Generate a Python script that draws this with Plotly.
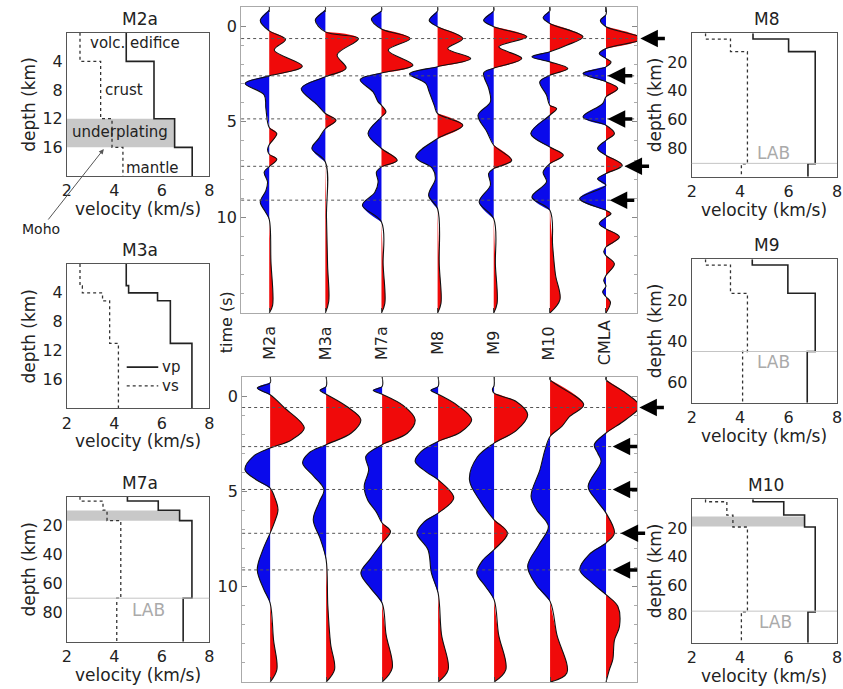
import plotly.graph_objects as go

W, H = 843, 689
FONT = "DejaVu Sans"

# ---------------- velocity models (depth boundaries in km, velocities in km/s)
M2A_DEPTH = [0, 4, 12, 16, 20]
M2A_VP = [4.5, 5.67, 6.54, 7.28]
M2A_VS = [2.55, 3.42, 3.9, 4.36]

M3A_DEPTH = [0, 3, 4, 5.1, 11, 20]
M3A_VP = [4.5, 4.6, 5.82, 6.36, 7.27]
M3A_VS = [2.55, 2.65, 3.5, 3.8, 4.17]

M7A_DEPTH = [0, 3, 9.3, 16.5, 70, 100]
M7A_VP = [4.55, 5.85, 6.75, 7.27, 6.9]
M7A_VS = [2.55, 3.52, 3.69, 4.27, 4.1]

M8_DEPTH = [0, 4, 12.8, 91, 100]
M8_VP = [4.53, 6.0, 7.1, 6.8]
M8_VS = [2.57, 3.6, 4.3, 4.05]

M9_DEPTH = [0, 2.8, 16.6, 45, 70]
M9_VP = [4.5, 5.97, 7.1, 6.77]
M9_VS = [2.57, 3.6, 4.3, 4.1]

M10_DEPTH = [0, 1.7, 11, 19.3, 78.5, 100]
M10_VP = [4.53, 5.8, 6.66, 7.1, 6.8]
M10_VS = [2.57, 3.45, 3.7, 4.3, 4.05]

UNDERPLATING = {"M2a": (12, 16, 6.54), "M7a": (9.5, 16.5, 6.75), "M10": (12, 19, 6.66)}
LAB_DEPTH = {"M7a": 70, "M8": 90.7, "M9": 45, "M10": 78}

# ---------------- receiver functions: key times (s) and amplitudes (trace-spacing units)
STATIONS = ["M2a", "M3a", "M7a", "M8", "M9", "M10", "CMLA"]

m2a_top_t = [-1, -0.85, -0.3, 0.25, 0.7, 1.25, 2.1, 2.6, 3.0, 3.6, 4.3, 5.3, 5.62, 6.2, 6.45, 6.7, 6.96, 7.35, 7.63, 8.15, 8.6, 9.2, 9.7, 10.1, 12.3, 14.6, 15]
m2a_top_a = [0, 0, -0.16, 0, 0.29, 0.09, 0.59, 0, -0.43, -0.09, -0.06, 0, 0.135, 0, -0.03, 0, 0.135, 0, -0.09, -0.03, -0.06, -0.16, -0.07, 0, 0.03, 0.06, 0]
m3a_top_t = [-1, -0.85, -0.31, 0.3, 0.65, 1.5, 2.2, 2.65, 3.26, 4.1, 4.57, 4.92, 5.36, 5.88, 6.4, 7.1, 10.0, 12.5, 14.4, 15]
m3a_top_a = [0, 0, -0.18, 0, 0.59, 0.21, 0.37, 0, -0.43, -0.15, 0, 0.19, 0, -0.12, -0.24, 0, 0.02, 0.04, 0.06, 0]
m7a_top_t = [-1, -0.8, -0.37, 0.15, 0.65, 1.26, 2.04, 2.45, 2.8, 3.44, 3.96, 4.14, 4.49, 4.75, 5.62, 6.4, 7.02, 7.36, 7.63, 8.15, 8.7, 9.37, 10.24, 12.5, 14.5, 15]
m7a_top_a = [0, 0, -0.18, 0, 0.51, 0.12, 0.56, 0, -0.38, -0.15, -0.06, 0, 0.08, 0, -0.24, 0, 0.28, 0, -0.09, -0.06, -0.12, -0.34, 0, 0.03, 0.06, 0]
m8_top_t = [-1, -0.8, -0.3, 0.03, 0.65, 1.17, 1.69, 2.12, 2.5, 3.0, 3.44, 4.14, 4.57, 5.18, 5.88, 6.84, 7.45, 7.98, 8.85, 9.55, 12.5, 14.5, 15]
m8_top_a = [0, 0, -0.15, 0, 0.45, 0.18, 0.59, 0, -0.5, -0.21, -0.15, -0.06, 0, 0.45, 0, -0.39, -0.09, -0.04, -0.16, 0, 0.03, 0.06, 0]
m9_top_t = [-1, -0.8, -0.3, 0.03, 0.56, 1.08, 1.69, 2.2, 2.45, 3.26, 3.96, 4.66, 5.53, 6.23, 7.02, 7.45, 7.7, 8.32, 9.2, 10.07, 12.5, 14.5, 15]
m9_top_a = [0, 0, -0.18, 0, 0.59, 0.09, 0.5, 0, -0.18, -0.09, -0.06, -0.28, -0.12, 0, 0.32, 0, -0.09, -0.06, -0.26, 0, 0.03, 0.06, 0]
m10_top_t = [-1, -0.8, -0.44, -0.14, 0.56, 1.0, 1.34, 1.6, 1.87, 2.22, 2.57, 2.91, 3.6, 4.14, 4.31, 4.66, 5.62, 6.32, 6.75, 7.19, 7.63, 8.15, 8.94, 9.63, 11.5, 13.0, 14.3, 15]
m10_top_a = [0, 0, -0.12, 0, 0.59, 0.3, 0, -0.32, 0, 0.32, 0, -0.18, -0.06, 0, 0.12, 0, -0.34, 0, 0.24, 0, -0.12, -0.06, -0.32, 0, 0.05, 0.1, 0.18, 0]
cmla_top_t = [-1, -0.6, -0.3, 0.03, 0.65, 1.17, 1.43, 1.69, 1.87, 2.13, 2.48, 2.91, 3.26, 3.7, 4.05, 4.75, 5.18, 5.62, 5.97, 6.4, 6.75, 7.28, 7.71, 7.98, 8.32, 9.02, 9.63, 9.81, 10.0, 10.33, 10.6, 11.03, 11.55, 11.8, 12.0, 12.43, 13.04, 13.3, 13.6, 13.9, 14.15, 14.43, 15]
cmla_top_a = [0, 0, -0.1, 0, 0.65, 0, -0.12, 0, 0.09, 0, -0.41, 0, 0.21, 0, -0.06, -0.41, 0, 0.15, 0, -0.15, 0, 0.29, 0, -0.15, 0, -0.47, 0, 0.09, 0, -0.12, 0, 0.24, 0, -0.04, 0, 0.15, 0, -0.04, 0, -0.06, 0, 0.08, 0]

m2a_bot_t = [-1, -0.7, -0.42, -0.07, 0.6, 1.68, 2.3, 2.73, 3.16, 3.86, 4.39, 4.83, 5.3, 5.96, 6.6, 7.19, 8.06, 9.11, 10.16, 10.86, 12.78, 14.35, 15]
m2a_bot_a = [0, 0, -0.23, 0, 0.25, 0.61, 0.38, 0, -0.3, -0.45, -0.25, 0, 0.08, 0.14, 0.08, 0, -0.13, -0.23, -0.11, 0, 0.06, 0.12, 0]
m3a_bot_t = [-1, -0.5, -0.3, -0.1, 0.55, 1.24, 1.94, 2.55, 2.99, 3.51, 4.21, 4.9, 5.6, 6.49, 7.53, 8.58, 11.0, 13.0, 14.35, 15]
m3a_bot_a = [0, 0, -0.11, 0, 0.37, 0.62, 0.45, 0, -0.31, -0.42, -0.22, -0.04, -0.13, -0.23, -0.1, 0, 0.03, 0.08, 0.15, 0]
m7a_bot_t = [-1, -0.5, -0.3, -0.1, 0.5, 1.24, 1.95, 2.55, 3.16, 3.86, 4.74, 5.44, 6.1, 6.66, 7.1, 7.71, 8.5, 9.28, 10.1, 10.86, 12.5, 14.27, 15]
m7a_bot_a = [0, 0, -0.16, 0, 0.38, 0.59, 0.45, 0, -0.29, -0.24, -0.32, -0.26, -0.1, 0, 0.15, 0, -0.2, -0.38, -0.2, 0, 0.07, 0.18, 0]
m8_bot_t = [-1, -0.5, -0.3, -0.1, 0.5, 1.24, 1.9, 2.38, 2.9, 3.43, 4.0, 4.39, 5.35, 6.14, 6.6, 7.19, 8.06, 9.28, 10.33, 12.5, 14.35, 15]
m8_bot_a = [0, 0, -0.13, 0, 0.35, 0.6, 0.4, 0, -0.3, -0.41, -0.2, 0, 0.28, 0, -0.25, -0.38, -0.18, -0.12, 0, 0.06, 0.18, 0]
m9_bot_t = [-1, -0.55, -0.35, -0.15, 0.3, 0.98, 1.8, 2.47, 3.2, 4.39, 5.5, 6.49, 7.19, 8.06, 8.6, 9.28, 10.0, 10.68, 12.5, 14.35, 15]
m9_bot_a = [0, 0, -0.03, 0, 0.4, 0.6, 0.4, 0, -0.3, -0.44, -0.25, 0, 0.24, 0, -0.2, -0.31, -0.15, 0, 0.08, 0.21, 0]
m10_bot_t = [-1, -0.85, 0.45, 1.07, 1.59, 2.12, 2.81, 3.86, 5.26, 5.96, 6.84, 7.8, 8.93, 9.9, 10.77, 12.5, 14.53, 15]
m10_bot_a = [0, 0, 0.6, 0.35, 0.21, 0, -0.09, -0.18, -0.34, -0.24, -0.03, -0.2, -0.4, -0.25, 0, 0.12, 0.3, 0]
cmla_bot_t = [-1, -0.85, -0.16, 0.54, 1.24, 1.94, 2.55, 2.99, 3.43, 4.74, 5.44, 6.14, 7.19, 7.71, 8.3, 9.11, 9.8, 10.42, 11.03, 12.08, 12.8, 13.83, 14.35, 15]
cmla_bot_a = [0, 0, 0.35, 0.6, 0.35, 0, -0.21, -0.15, -0.09, -0.32, -0.18, 0, 0.15, 0, -0.3, -0.47, -0.25, 0, 0.21, 0.24, 0.15, 0.12, 0.06, 0]

TOP_T = [m2a_top_t, m3a_top_t, m7a_top_t, m8_top_t, m9_top_t, m10_top_t, cmla_top_t]
TOP_A = [m2a_top_a, m3a_top_a, m7a_top_a, m8_top_a, m9_top_a, m10_top_a, cmla_top_a]
BOT_T = [m2a_bot_t, m3a_bot_t, m7a_bot_t, m8_bot_t, m9_bot_t, m10_bot_t, cmla_bot_t]
BOT_A = [m2a_bot_a, m3a_bot_a, m7a_bot_a, m8_bot_a, m9_bot_a, m10_bot_a, cmla_bot_a]

TOP_MARKS = [0.65, 2.6, 4.85, 7.33, 9.1]
BOT_MARKS = [0.6, 2.65, 4.9, 7.2, 9.12]

# ---------------- layout helpers (pixel boxes)
def xdom(x0, x1):
    return [x0 / W, x1 / W]

def ydom(y0, y1):
    return [1 - y1 / H, 1 - y0 / H]

fig = go.Figure()

VEL_PANELS = [
    # name, depth, vp, vs, pixel box (x0,x1,y0,y1), depth max, ticks
    ("M2a", M2A_DEPTH, M2A_VP, M2A_VS, (62.7, 206.7, 32.7, 176.0), 20, [4, 8, 12, 16]),
    ("M3a", M3A_DEPTH, M3A_VP, M3A_VS, (62.7, 206.7, 264.0, 408.3), 20, [4, 8, 12, 16]),
    ("M7a", M7A_DEPTH, M7A_VP, M7A_VS, (62.7, 206.7, 496.7, 641.7), 100, [20, 40, 60, 80]),
    ("M8", M8_DEPTH, M8_VP, M8_VS, (695.0, 842.0, 33.3, 176.7), 100, [20, 40, 60, 80]),
    ("M9", M9_DEPTH, M9_VP, M9_VS, (695.0, 842.0, 259.3, 402.7), 70, [20, 40, 60]),
    ("M10", M10_DEPTH, M10_VP, M10_VS, (695.0, 842.0, 499.3, 642.7), 100, [20, 40, 60, 80]),
]

def profile(bounds, vel):
    xs, ys = [], []
    for i, v in enumerate(vel):
        xs += [v, v]
        ys += [bounds[i], bounds[i + 1]]
    return xs, ys

shapes = []
annotations = []
layout_axes = {}

def ann(text, px, py, size=16, angle=0, color="#222", **kw):
    annotations.append(dict(text=text, x=px / W, y=1 - py / H, xref="paper", yref="paper",
                            showarrow=False, textangle=angle,
                            font=dict(family=FONT, size=size, color=color),
                            xanchor="center", yanchor="middle", **kw))

for k, (name, dep, vp, vs, box, dmax, yt) in enumerate(VEL_PANELS):
    idx = k + 1
    sx = "" if idx == 1 else str(idx)
    xr, yr = "x" + sx, "y" + sx
    x0, x1, y0, y1 = box
    layout_axes["xaxis" + sx] = dict(domain=xdom(x0, x1), anchor=yr, range=[2, 8], tickvals=[2, 4, 6, 8],
                                     showline=True, mirror=True, linecolor="#555", linewidth=1,
                                     ticks="", showgrid=False, zeroline=False,
                                     tickfont=dict(family=FONT, size=16, color="#222"))
    layout_axes["yaxis" + sx] = dict(domain=ydom(y0, y1), anchor=xr, range=[dmax, 0], tickvals=yt,
                                     showline=True, mirror=True, linecolor="#555", linewidth=1,
                                     ticks="", showgrid=False, zeroline=False,
                                     tickfont=dict(family=FONT, size=16, color="#222"))
    px_, py_ = profile(dep, vp)
    fig.add_trace(go.Scatter(x=px_, y=py_, mode="lines", xaxis=xr, yaxis=yr,
                             line=dict(color="#222", width=1.6), showlegend=False, hoverinfo="skip"))
    sx_, sy_ = profile(dep, vs)
    fig.add_trace(go.Scatter(x=sx_, y=sy_, mode="lines", xaxis=xr, yaxis=yr,
                             line=dict(color="#333", width=1.3, dash="dot"), showlegend=False, hoverinfo="skip"))
    if name in UNDERPLATING:
        d0, d1, vmax = UNDERPLATING[name]
        shapes.append(dict(type="rect", xref=xr, yref=yr, x0=2, x1=vmax, y0=d0, y1=d1,
                           fillcolor="#c8c8c8", line=dict(width=0), layer="below"))
    if name in LAB_DEPTH:
        shapes.append(dict(type="line", xref=xr + " domain", yref=yr, x0=0, x1=1,
                           y0=LAB_DEPTH[name], y1=LAB_DEPTH[name], line=dict(color="#c4c4c4", width=1)))
    # titles
    cx = (x0 + x1) / 2
    ann(name, cx + 2, y0 - 14, size=17)
    ann("velocity (km/s)", cx, y1 + 33, size=17)
    ann("depth (km)", x0 - 38 if x0 < 100 else x0 - 37, (y0 + y1) / 2, size=17, angle=-90)

# texts inside velocity panels
def dann(text, x, y, xr, yr, size=15, color="#222"):
    annotations.append(dict(text=text, x=x, y=y, xref=xr, yref=yr, showarrow=False,
                            font=dict(family=FONT, size=size, color=color),
                            xanchor="center", yanchor="middle"))

dann("volc. edifice", 4.85, 1.4, "x", "y")
dann("crust", 4.39, 8.0, "x", "y")
dann("underplating", 4.25, 13.9, "x", "y")
dann("mantle", 5.6, 18.9, "x", "y")
dann("LAB", 5.43, 78, "x3", "y3", size=17, color="#aaaaaa")
dann("LAB", 5.39, 83.5, "x4", "y4", size=17, color="#aaaaaa")
dann("LAB", 5.39, 50, "x5", "y5", size=17, color="#aaaaaa")
dann("LAB", 5.45, 85.4, "x6", "y6", size=17, color="#aaaaaa")

# legend in M3a
shapes.append(dict(type="line", xref="x2", yref="y2", x0=4.52, x1=5.85, y0=14.3, y1=14.3,
                   line=dict(color="#222", width=1.6)))
shapes.append(dict(type="line", xref="x2", yref="y2", x0=4.52, x1=5.85, y0=16.9, y1=16.9,
                   line=dict(color="#333", width=1.3, dash="dot")))
annotations.append(dict(text="vp", x=5.93, y=14.3, xref="x2", yref="y2", showarrow=False,
                        xanchor="left", yanchor="middle", font=dict(family=FONT, size=15, color="#222")))
annotations.append(dict(text="vs", x=5.93, y=16.9, xref="x2", yref="y2", showarrow=False,
                        xanchor="left", yanchor="middle", font=dict(family=FONT, size=15, color="#222")))

# Moho arrow
annotations.append(dict(text="Moho", x=100 / W, y=1 - 149 / H, xref="paper", yref="paper",
                        ax=-63, ay=80, showarrow=True, arrowhead=2, arrowsize=1, arrowwidth=1,
                        arrowcolor="#555", font=dict(family=FONT, size=14, color="#222")))

# ---------------- receiver function panels
RED = "rgb(240,10,10)"
BLUE = "rgb(10,10,235)"

def add_wave(t, a, off, xr, yr):
    zeros = [i for i, v in enumerate(a) if v == 0]
    for j in range(len(zeros) - 1):
        s, e = zeros[j], zeros[j + 1]
        if e - s < 2:
            continue
        seg = a[s:e + 1]
        col = RED if max(seg) > 0 else BLUE
        fig.add_trace(go.Scatter(x=[off + v for v in seg], y=t[s:e + 1], mode="lines",
                                 xaxis=xr, yaxis=yr, fill="toself", fillcolor=col,
                                 line=dict(width=0, shape="spline", smoothing=1.0, color=col),
                                 showlegend=False, hoverinfo="skip"))
    fig.add_trace(go.Scatter(x=[off + v for v in a], y=t, mode="lines", xaxis=xr, yaxis=yr,
                             line=dict(color="#111", width=1.1, shape="spline", smoothing=1.0),
                             showlegend=False, hoverinfo="skip"))

for idx, (T, A, box, marks, yt) in zip(
        [7, 8],
        [(TOP_T, TOP_A, (239, 640, 7, 313), TOP_MARKS, [0, 5, 10]),
         (BOT_T, BOT_A, (240, 640, 377, 682), BOT_MARKS, [0, 5, 10, 15])]):
    xr, yr = "x%d" % idx, "y%d" % idx
    x0, x1, y0, y1 = box
    layout_axes["xaxis%d" % idx] = dict(domain=xdom(x0, x1), anchor=yr, range=[0.5, 7.56],
                                        tickvals=list(range(1, 8)), showticklabels=False,
                                        ticks="inside", ticklen=5, tickcolor="#444",
                                        showline=True, mirror="ticks", linecolor="#aaa", linewidth=1,
                                        showgrid=False, zeroline=False)
    layout_axes["yaxis%d" % idx] = dict(domain=ydom(y0, y1), anchor=xr, range=[15, -1], tickvals=yt,
                                        ticks="inside", ticklen=5, tickcolor="#888",
                                        minor=dict(dtick=1, ticks="inside", ticklen=3, tickcolor="#aaa"),
                                        showline=True, mirror="ticks", linecolor="#aaa", linewidth=1,
                                        showgrid=False, zeroline=False,
                                        tickfont=dict(family=FONT, size=16, color="#222"))
    for i in range(7):
        add_wave(T[i], A[i], i + 1, xr, yr)
    for m in marks:
        shapes.append(dict(type="line", xref=xr + " domain", yref=yr, x0=0, x1=1, y0=m, y1=m,
                           line=dict(color="#555", width=1, dash="dot"), layer="above"))

# arrows
TOP_ARROW_X = [643, 610, 610, 627, 612]
BOT_ARROW_X = [642, 615, 615, 623, 615]
for marks, xs, yr in [(TOP_MARKS, TOP_ARROW_X, "y7"), (BOT_MARKS, BOT_ARROW_X, "y8")]:
    for m, px in zip(marks, xs):
        annotations.append(dict(text="", x=px / W, y=m, xref="paper", yref=yr, ax=26, ay=0,
                                showarrow=True, arrowhead=2, arrowsize=1.0, arrowwidth=3.5,
                                arrowcolor="black"))

# station labels between panels
BASE_PX = [268, 325, 381.5, 438, 494.5, 551, 607.5]
for s, px in zip(STATIONS, BASE_PX):
    ann(s, px, 343, size=16, angle=-90)
ann("time (s)", 224, 322, size=16, angle=-90)

fig.update_layout(width=W, height=H, margin=dict(l=0, r=0, t=0, b=0),
                  paper_bgcolor="white", plot_bgcolor="white",
                  shapes=shapes, annotations=annotations, showlegend=False,
                  font=dict(family=FONT), **layout_axes)

fig.write_html("out.html")
